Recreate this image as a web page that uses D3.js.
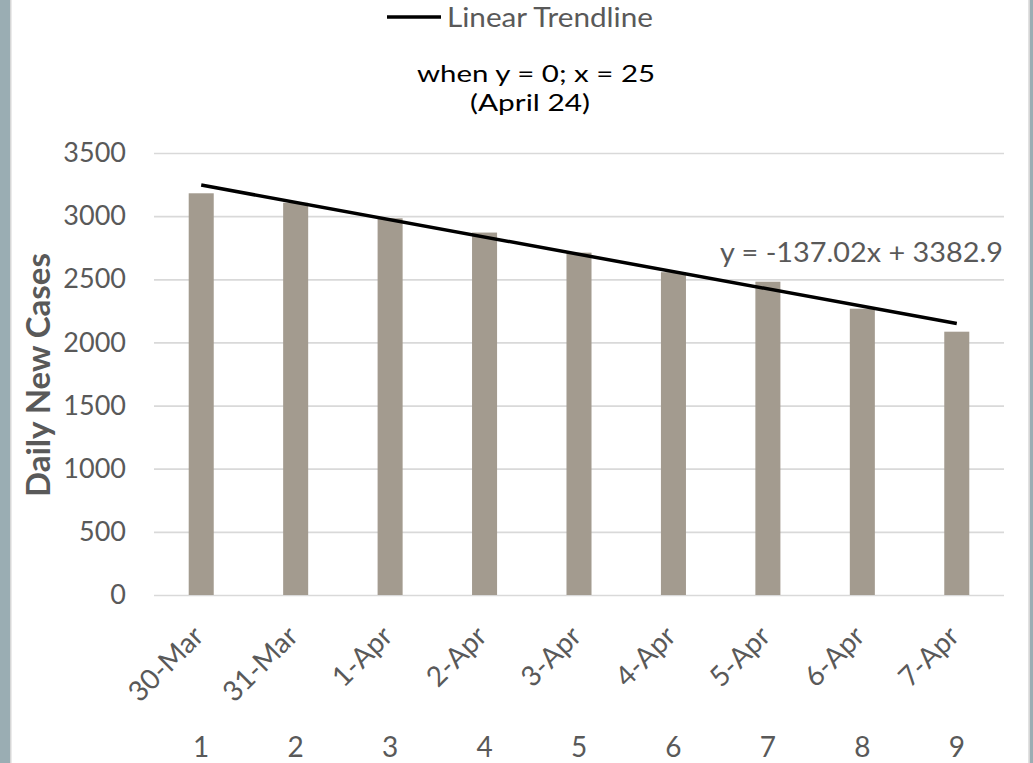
<!DOCTYPE html>
<html>
<head>
<meta charset="utf-8">
<script src="https://cdn.jsdelivr.net/npm/d3@7"></script>
<style>
  html, body { margin: 0; padding: 0; background: #fff; }
  svg { display: block; }
</style>
</head>
<body>
<script>
const categories = ["30-Mar", "31-Mar", "1-Apr", "2-Apr", "3-Apr", "4-Apr", "5-Apr", "6-Apr", "7-Apr"];
const dayNumbers = ["1", "2", "3", "4", "5", "6", "7", "8", "9"];
const dailyNewCases = [3181, 3106, 2983, 2870, 2711, 2556, 2481, 2267, 2085];
const trendSlope = -137.02;
const trendIntercept = 3382.9;
const yTicks = [0, 500, 1000, 1500, 2000, 2500, 3000, 3500];
const legendLabel = "Linear Trendline";
const titleLines = ["when y = 0; x = 25", "(April 24)"];
const equationLabel = "y = -137.02x + 3382.9";
const yTitle = "Daily New Cases";

const W = 1033, H = 763;
const font = "Lato, 'Open Sans', sans-serif";
const svg = d3.select("body").append("svg").attr("width", W).attr("height", H);

// frame
svg.append("rect").attr("x", 0).attr("y", 0).attr("width", W).attr("height", H).attr("fill", "#fff");
svg.append("rect").attr("x", 0).attr("y", 0).attr("width", 10).attr("height", H).attr("fill", "#9AADB3");
svg.append("rect").attr("x", 10).attr("y", 0).attr("width", 1.5).attr("height", H).attr("fill", "#d6d6d6");
svg.append("rect").attr("x", 1030).attr("y", 0).attr("width", 3).attr("height", H).attr("fill", "#9AADB3");
svg.append("rect").attr("x", 1028.3).attr("y", 0).attr("width", 1.7).attr("height", H).attr("fill", "#d6d6d6");

const plot = { left: 154, right: 1004, top: 153, bottom: 595 };

const x = d3.scaleBand().domain(categories).range([plot.left, plot.right]).paddingInner(0.735).paddingOuter(0.3675);
const y = d3.scaleLinear().domain([0, 3500]).range([plot.bottom, plot.top]);

// gridlines
const grid = svg.append("g")
  .attr("transform", `translate(${plot.left},0)`)
  .call(d3.axisLeft(y).tickValues(yTicks).tickSize(-(plot.right - plot.left)).tickFormat(""));
grid.select(".domain").remove();
grid.selectAll("line").attr("stroke", "#d9d9d9").attr("stroke-width", 1.7);

// y tick labels
const yAxis = svg.append("g")
  .attr("transform", `translate(${plot.left},0)`)
  .call(d3.axisLeft(y).tickValues(yTicks).tickSize(0).tickPadding(28).tickFormat(d3.format("d")));
yAxis.select(".domain").remove();
yAxis.selectAll("text").attr("font-family", font).attr("font-size", 27).attr("fill", "#595959");

// bars
svg.append("g").selectAll("rect").data(dailyNewCases).join("rect")
  .attr("x", (d, i) => x(categories[i]))
  .attr("y", d => y(d))
  .attr("width", x.bandwidth())
  .attr("height", d => y(0) - y(d))
  .attr("fill", "#A39B8F");

// trendline
const xc = i => x(categories[i]) + x.bandwidth() / 2;
const trend = [0, categories.length - 1].map(i => ({ i, v: trendSlope * (i + 1) + trendIntercept }));
svg.append("path")
  .datum(trend)
  .attr("d", d3.line().x(d => xc(d.i)).y(d => y(d.v)))
  .attr("stroke", "#000").attr("stroke-width", 3.5).attr("fill", "none");

// x category labels, rotated
svg.append("g").selectAll("text").data(categories).join("text")
  .attr("transform", (d, i) => `translate(${xc(i) + 4},${plot.bottom + 43}) rotate(-45)`)
  .attr("text-anchor", "end")
  .attr("font-family", font).attr("font-size", 28).attr("fill", "#595959")
  .text(d => d);

// day numbers
svg.append("g").selectAll("text").data(dayNumbers).join("text")
  .attr("x", (d, i) => xc(i))
  .attr("y", 757)
  .attr("text-anchor", "middle")
  .attr("font-family", font).attr("font-size", 28).attr("fill", "#595959")
  .text(d => d);

// y title
svg.append("text")
  .attr("transform", `translate(50,375) rotate(-90)`)
  .attr("text-anchor", "middle")
  .attr("font-family", font).attr("font-size", 33).attr("font-weight", "bold").attr("fill", "#595959")
  .text(yTitle);

// legend
svg.append("line").attr("x1", 387).attr("x2", 441).attr("y1", 17).attr("y2", 17)
  .attr("stroke", "#000").attr("stroke-width", 3.5);
svg.append("text").attr("x", 447).attr("y", 27)
  .attr("font-family", font).attr("font-size", 26).attr("fill", "#595959")
  .attr("textLength", 206).attr("lengthAdjust", "spacingAndGlyphs")
  .text(legendLabel);

// title (one text block, two lines)
const titleCx = [536, 530];
const titleLen = [238, 120];
const titleText = svg.append("text")
  .attr("font-family", font).attr("font-size", 24).attr("fill", "#000");
titleText.selectAll("tspan").data(titleLines).join("tspan")
  .attr("x", (d, i) => titleCx[i] - titleLen[i] / 2)
  .attr("y", (d, i) => 82 + i * 29)
  .attr("textLength", (d, i) => titleLen[i]).attr("lengthAdjust", "spacingAndGlyphs")
  .text(d => d);

// equation
svg.append("text").attr("x", 720).attr("y", 262)
  .attr("textLength", 283).attr("lengthAdjust", "spacingAndGlyphs")
  .attr("font-family", font).attr("font-size", 27).attr("fill", "#595959")
  .text(equationLabel);
</script>
</body>
</html>
